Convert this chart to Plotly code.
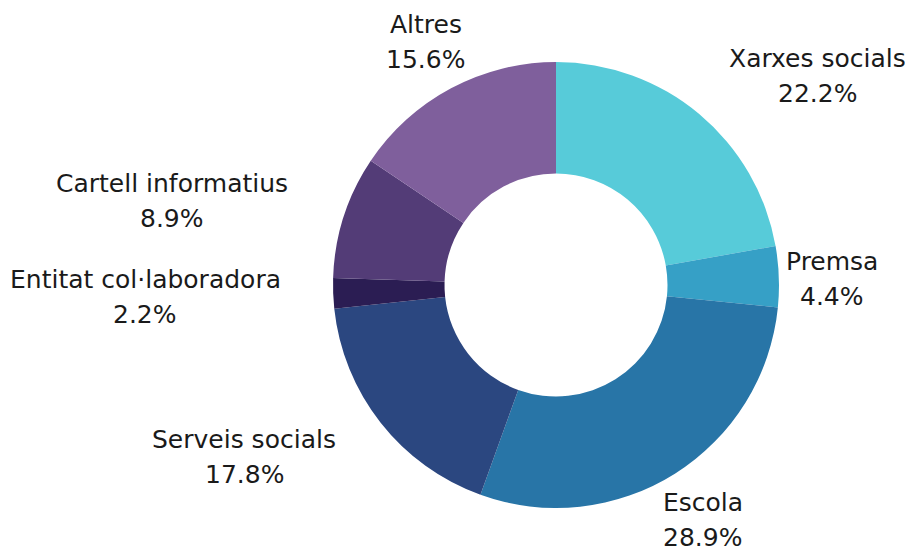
"""
Donut chart: how participants heard about the activity
"""
import math
import plotly.graph_objects as go

labels = ['Xarxes socials', 'Premsa', 'Escola', 'Serveis socials',
          'Entitat col·laboradora', 'Cartell informatius', 'Altres']
values = [22.2, 4.4, 28.9, 17.8, 2.2, 8.9, 15.6]
colors = ['#57CBD9', '#36A0C6', '#2875A7', '#2B4780',
          '#2B1D53', '#533C77', '#7F5F9C']

W, H = 905, 550
CX, CY, R = 556, 285, 223          # donut centre and radius in pixels
LABEL_GAP = 60                      # label distance beyond the outer edge
LINE_GAP = 35                       # spacing between name and percentage
# hand nudges (px) so labels sit where the original put them
nudges = [(80, 8), (-7, 5), (-4, -4), (-89, -3), (-128, 1), (-115, 3), (3, 7)]
FONT = dict(family='DejaVu Sans', size=25, color='#1a1a1a')

fig = go.Figure(go.Pie(
    labels=labels,
    values=values,
    hole=0.5,
    sort=False,
    direction='clockwise',
    rotation=0,
    marker=dict(colors=colors, line=dict(width=0)),
    textinfo='none',
    hoverinfo='label+percent',
    domain=dict(x=[(CX - R) / W, (CX + R) / W],
                y=[1 - (CY + R) / H, 1 - (CY - R) / H]),
))

# Outside labels placed at each slice's mid angle
total = sum(values)
annotations = []
cum = 0
for lab, val, (dx, dy) in zip(labels, values, nudges):
    mid = (cum + val / 2) / total * 2 * math.pi
    cum += val
    px = CX + (R + LABEL_GAP) * math.sin(mid) + dx
    py = CY - (R + LABEL_GAP) * math.cos(mid) + dy
    pct = f'{val / total * 100:.1f}%'
    for txt, oy in ((lab, -LINE_GAP / 2), (pct, LINE_GAP / 2)):
        annotations.append(dict(
            x=px / W, y=1 - (py + oy) / H, xref='paper', yref='paper',
            text=txt, showarrow=False, xanchor='center', yanchor='middle',
            font=FONT,
        ))

fig.update_layout(
    width=W,
    height=H,
    margin=dict(l=0, r=0, t=0, b=0),
    showlegend=False,
    paper_bgcolor='white',
    plot_bgcolor='white',
    annotations=annotations,
)

# drop the default 8px body margin so the figure fills the window
fig.write_html("out.html", config={'displayModeBar': False},
               post_script="document.body.style.margin='0';")
